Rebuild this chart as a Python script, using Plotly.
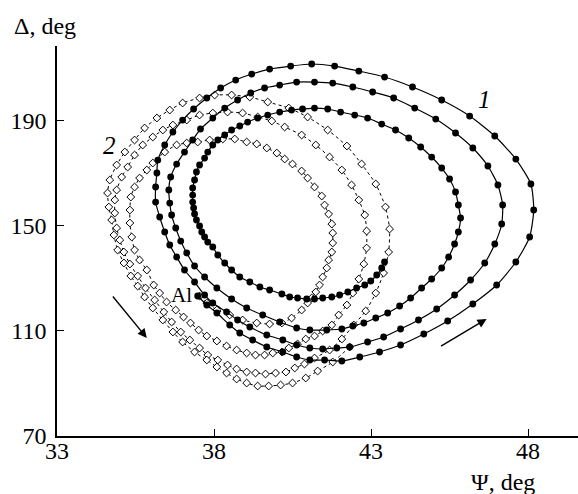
import plotly.graph_objects as go

# Series 1 (filled circles, solid line): Psi (deg), Delta (deg)
psi_1 = [37.48, 37.77, 38.09, 38.50, 38.82, 39.23, 39.68, 40.19, 40.63, 41.05, 41.52, 42.07, 42.64, 43.27,
         43.94, 44.68, 45.44, 46.24, 47.00, 47.61, 48.05, 48.18, 48.09, 47.61, 46.94, 46.14, 45.25, 44.32,
         43.43, 42.61, 41.84, 41.11, 40.44, 39.77, 39.20, 38.69, 38.21, 37.77, 37.35, 37.00, 36.69, 36.43,
         36.21, 36.18, 36.14, 36.14, 36.27, 36.43, 36.59, 36.81, 37.06, 37.38,
         37.70, 37.96, 38.40, 38.75, 39.14, 39.68, 40.19, 40.63, 41.05, 41.46, 41.91, 42.32, 42.89, 43.40,
         43.94, 44.51, 45.09, 45.66, 46.17, 46.62, 46.94, 47.16, 47.19, 47.04, 46.72, 46.24, 45.69, 45.06,
         44.39, 43.72, 43.05, 42.42, 41.78, 41.20, 40.63, 40.09, 39.61, 39.17, 38.75, 38.34, 37.96, 37.57,
         37.32, 37.06, 36.81, 36.62, 36.56, 36.59, 36.65, 36.78, 36.94, 37.13, 37.38, 37.70, 38.09,
         38.56, 39.04, 39.55, 40.09, 40.63, 41.05, 41.59, 42.07, 42.42, 42.77, 43.15, 43.53, 43.91, 44.26,
         44.61, 44.93, 45.25, 45.47, 45.66, 45.78, 45.85, 45.78, 45.69, 45.50, 45.25, 44.93, 44.58, 44.20,
         43.78, 43.34, 42.89, 42.48, 42.03, 41.62, 41.20, 40.82, 40.47, 40.09, 39.71, 39.39, 39.07, 38.82,
         38.56, 38.34, 38.12, 37.96, 37.80, 37.70, 37.54, 37.44, 37.38, 37.32, 37.32, 37.32, 37.35, 37.38,
         37.44, 37.54, 37.61, 37.70, 37.80, 37.96, 38.12, 38.34, 38.56, 38.82, 39.14, 39.46, 39.77, 40.16,
         40.41, 40.66, 40.95, 41.20, 41.46, 41.75, 42.00, 42.26, 42.54, 42.80, 42.99, 43.18, 43.34, 43.43]
delta_1 = [123.23, 119.81, 116.77, 112.21, 109.16, 106.50, 103.84, 101.94, 100.04, 98.90, 98.90, 98.52, 100.04, 101.94,
           104.60, 108.78, 113.73, 120.19, 127.41, 136.16, 145.67, 155.93, 165.82, 175.32, 184.07, 191.67, 197.76, 202.70,
           206.50, 208.78, 210.68, 211.45, 210.68, 209.54, 207.64, 205.36, 202.32, 198.52, 194.34, 190.15, 185.59, 180.65,
           174.94, 170.00, 164.68, 158.97, 153.27, 147.57, 142.62, 138.06, 133.12, 128.56,
           123.61, 120.57, 117.15, 114.11, 111.45, 108.40, 106.50, 104.60, 103.46, 103.08, 103.46, 103.84, 105.74, 107.64,
           110.68, 114.11, 118.29, 123.61, 129.32, 135.78, 143.00, 150.61, 157.83, 165.44, 172.66, 179.51, 185.21, 190.53,
           194.71, 198.52, 200.80, 202.70, 204.22, 204.60, 204.60, 203.46, 202.32, 200.42, 197.76, 194.71, 190.91, 186.73,
           182.55, 177.98, 173.42, 168.48, 163.54, 158.59, 154.03, 149.09, 144.14, 139.58, 134.64, 130.46, 126.27,
           122.09, 118.67, 116.01, 113.35, 111.06, 110.30, 110.30, 110.68, 111.83, 112.97, 114.87, 116.77, 119.43, 122.47,
           126.27, 129.70, 133.88, 138.06, 143.00, 147.57, 152.89, 157.83, 162.78, 167.72, 171.90, 176.08, 179.89, 183.31,
           186.35, 188.63, 190.91, 192.05, 193.19, 194.34, 194.71, 194.34, 193.95, 193.19, 192.05, 190.91, 189.39, 187.87,
           186.35, 184.45, 182.55, 180.65, 177.98, 175.70, 173.04, 170.38, 167.34, 164.30, 161.63, 158.97, 156.69, 154.41,
           152.13, 149.85, 147.57, 145.67, 143.76, 141.86, 138.82, 135.78, 133.12, 130.46, 128.56, 126.65, 125.51, 123.99,
           122.85, 122.47, 122.09, 122.09, 122.47, 122.85, 123.61, 124.75, 126.27, 127.41, 128.94, 131.22, 133.88, 136.16]

# Series 2 (open diamonds, dotted line)
psi_2 = [37.54, 37.77, 38.09, 38.50, 38.91, 39.36, 39.77, 40.16, 40.47, 40.79, 40.98, 41.11, 41.24, 41.36,
         41.46, 41.59, 41.65, 41.75, 41.78, 41.78, 41.75, 41.65, 41.52, 41.43, 41.20, 40.98, 40.79, 40.50,
         40.25, 40.00, 39.68, 39.36, 39.04, 38.66, 38.28, 37.86, 37.48, 37.13, 36.81, 36.43, 36.05, 35.86,
         35.63, 35.47, 35.35, 35.32, 35.32, 35.38, 35.47, 35.63, 35.86, 36.08,
         36.27, 36.49, 36.78, 37.03, 37.25, 37.51, 37.77, 38.09, 38.40, 38.72, 39.04, 39.32, 39.61, 39.87,
         40.16, 40.38, 40.66, 40.92, 41.20, 41.46, 41.75, 41.97, 42.23, 42.42, 42.61, 42.77, 42.86, 42.86,
         42.80, 42.61, 42.38, 42.07, 41.68, 41.24, 40.79, 40.25, 39.84, 39.39, 38.91, 38.43, 37.96, 37.54,
         37.13, 36.69, 36.37, 36.05, 35.73, 35.47, 35.25, 35.06, 34.90, 34.84, 34.84, 34.90, 35.00, 35.13,
         35.32, 35.57, 35.82,
         36.11, 36.40, 36.65, 36.94, 37.23, 37.54, 37.80, 38.12, 38.43, 38.72, 39.04, 39.32, 39.64, 39.96,
         40.29, 40.57, 40.88, 41.20, 41.68, 42.07, 42.45, 42.83, 43.15, 43.40, 43.56, 43.59, 43.46, 43.15,
         42.70, 42.23, 41.62, 40.98, 40.38, 39.71, 39.14, 38.56, 38.02, 37.54, 37.00, 36.59, 36.18, 35.79,
         35.47, 35.16, 34.90, 34.68, 34.61, 34.65, 34.74, 34.81, 34.93, 35.13, 35.35, 35.57,
         35.79, 36.05, 36.37, 36.69, 37.00, 37.38, 37.77, 38.09, 38.40, 38.72, 39.04, 39.39, 39.74, 40.12,
         40.50, 40.92, 41.30, 41.78, 42.32]
delta_2 = [123.23, 120.57, 117.91, 116.01, 114.11, 112.97, 112.59, 112.97, 114.87, 117.91, 120.57, 122.47, 124.75, 127.41,
           130.46, 133.88, 136.92, 139.96, 143.38, 147.19, 150.61, 154.41, 157.83, 161.25, 164.68, 168.10, 170.76, 173.42,
           175.32, 177.60, 179.51, 181.03, 181.79, 182.93, 182.93, 182.55, 181.79, 181.41, 180.65, 177.98, 173.80, 171.14,
           168.10, 164.68, 160.87, 155.93, 150.99, 145.67, 140.72, 136.92, 133.12, 127.41,
           124.37, 120.95, 117.91, 115.25, 112.97, 110.30, 108.02, 106.12, 104.22, 102.70, 101.56, 100.80, 100.80, 101.56,
           101.94, 103.46, 104.98, 106.88, 108.02, 109.92, 112.21, 116.01, 119.81, 124.37, 129.70, 135.40, 141.48, 147.95,
           154.03, 159.73, 165.44, 171.14, 176.08, 180.65, 184.45, 187.49, 189.77, 191.29, 192.81, 193.19, 192.81, 192.05,
           190.15, 188.25, 186.35, 183.69, 180.65, 176.84, 172.28, 168.48, 163.54, 159.73, 154.79, 149.09, 144.52, 139.96,
           135.40, 130.84, 126.27,
           121.71, 117.15, 113.35, 109.54, 106.50, 103.46, 100.80, 98.90, 97.00, 95.48, 94.33, 93.95, 93.57, 93.95,
           94.33, 95.86, 97.38, 99.66, 102.70, 106.88, 112.21, 117.53, 124.37, 131.98, 139.96, 148.71, 157.07, 165.82,
           173.42, 180.27, 186.35, 191.29, 194.71, 197.00, 198.90, 199.66, 199.66, 198.52, 196.62, 193.95, 190.91, 187.11,
           182.55, 177.98, 173.04, 167.34, 162.40, 157.07, 152.13, 146.43, 140.72, 135.78, 130.84, 127.03,
           122.85, 118.67, 114.11, 109.54, 105.74, 101.94, 98.90, 96.24, 93.95, 91.67, 90.15, 89.01, 89.01, 89.39,
           90.15, 92.05, 94.71, 98.14, 103.84]

x_ticks = [33, 38, 43, 48]
y_ticks = [70, 110, 150, 190]
x_title = "Ψ, deg"
y_title = "Δ, deg"

FONT = "Liberation Serif"

fig = go.Figure()
fig.add_trace(go.Scatter(
    x=psi_2, y=delta_2, mode="lines+markers",
    line=dict(color="black", width=1, dash="dot", shape="spline", smoothing=0.6),
    marker=dict(symbol="diamond", size=6, color="white", line=dict(color="black", width=1)),
    showlegend=False, hoverinfo="skip"))
fig.add_trace(go.Scatter(
    x=psi_1, y=delta_1, mode="lines+markers",
    line=dict(color="black", width=1.2, shape="spline", smoothing=0.6),
    marker=dict(symbol="circle", size=6.8, color="black"),
    showlegend=False, hoverinfo="skip"))

axis_common = dict(showgrid=False, zeroline=False, showline=True, linecolor="black", linewidth=1.5,
                   ticks="inside", ticklen=7, tickwidth=1.2, tickcolor="black",
                   tickfont=dict(family=FONT, size=24, color="black"))
fig.update_xaxes(range=[33, 49.59], tickvals=x_ticks, ticktext=[str(v) for v in x_ticks],
                 ticklabelstandoff=-8, **axis_common)
fig.update_yaxes(range=[70, 218.3], tickvals=y_ticks, ticktext=[str(v) for v in y_ticks],
                 ticklabelstandoff=4, **axis_common)

annotations = [
    dict(text=y_title, xref="paper", yref="paper", x=-0.023, y=1.05, showarrow=False,
         xanchor="center", yanchor="middle", font=dict(family=FONT, size=24, color="black")),
    dict(text=x_title, xref="paper", yref="paper", x=0.856, y=-0.118, showarrow=False,
         xanchor="center", yanchor="middle", font=dict(family=FONT, size=24, color="black")),
    dict(text="<i>1</i>", xref="x", yref="y", x=46.62, y=197.8, showarrow=False,
         font=dict(family=FONT, size=25, color="black")),
    dict(text="<i>2</i>", xref="x", yref="y", x=34.68, y=180.6, showarrow=False,
         font=dict(family=FONT, size=25, color="black")),
    dict(text="Al", xref="x", yref="y", x=36.95, y=123.8, showarrow=False,
         font=dict(family=FONT, size=21, color="black")),
    dict(x=35.86, y=107.3, ax=34.74, ay=123.6, xref="x", yref="y", axref="x", ayref="y",
         text="", showarrow=True, arrowhead=2, arrowsize=1.3, arrowwidth=1.4, arrowcolor="black"),
    dict(x=46.68, y=114.5, ax=45.18, ay=103.8, xref="x", yref="y", axref="x", ayref="y",
         text="", showarrow=True, arrowhead=2, arrowsize=1.3, arrowwidth=1.4, arrowcolor="black"),
]

fig.update_layout(
    width=578, height=494,
    margin=dict(l=57, r=0, t=46, b=58),
    plot_bgcolor="white", paper_bgcolor="white",
    annotations=annotations,
    font=dict(family=FONT, color="black"),
)

fig.write_html("out.html")
